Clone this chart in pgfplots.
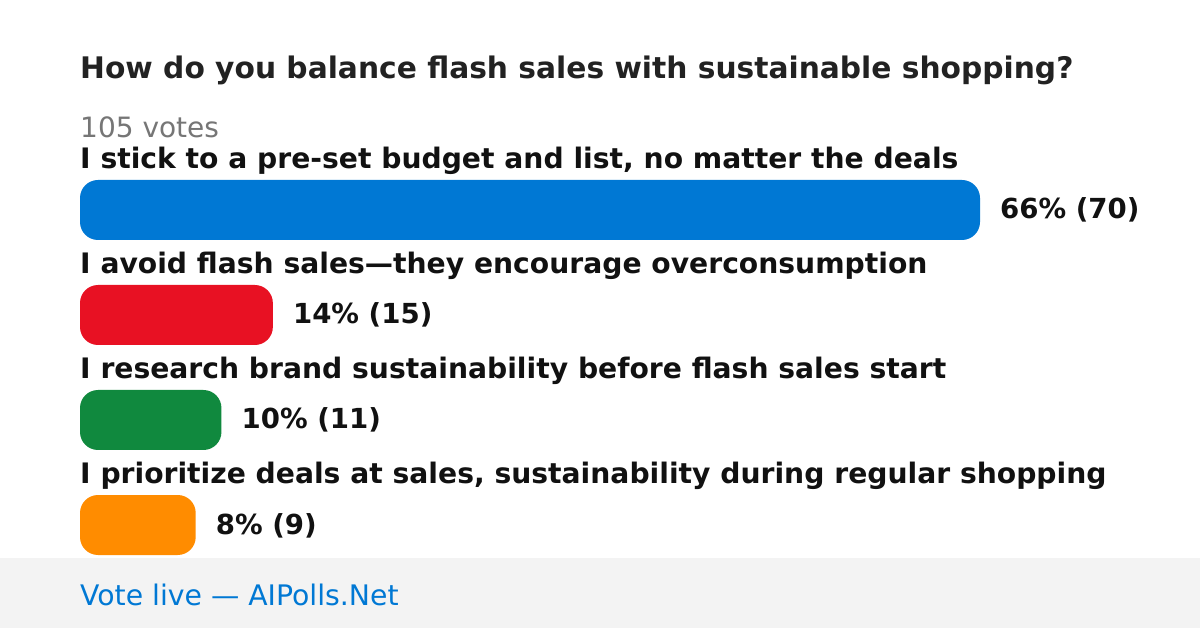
\documentclass[border=0pt]{standalone}
\usepackage{pgfplots}
\pgfplotsset{compat=1.18}
\usepackage{fontspec}
\setmainfont{DejaVu Sans}
\definecolor{cblue}{HTML}{0078D4}
\definecolor{cred}{HTML}{E81123}
\definecolor{cgreen}{HTML}{10893E}
\definecolor{corange}{HTML}{FF8C00}
\definecolor{footbg}{HTML}{F3F3F3}
\definecolor{titlec}{HTML}{222222}
\definecolor{labc}{HTML}{111111}
\definecolor{grayc}{HTML}{767676}
\begin{document}
\begin{tikzpicture}[x=1pt,y=1pt]
\fill[white] (0,0) rectangle (1200,628);
\fill[footbg] (0,0) rectangle (1200,70);
\node[anchor=base west, inner sep=0pt, text=titlec, font=\fontsize{29.7}{34}\selectfont\bfseries] at (80,549.5) {How do you balance flash sales with sustainable shopping?};
\node[anchor=base west, inner sep=0pt, text=grayc, font=\fontsize{28}{32}\selectfont] at (80,490.5) {105 votes};
\node[anchor=base west, inner sep=0pt, text=cblue, font=\fontsize{28.3}{32}\selectfont] at (80,22.5) {Vote live — AIPolls.Net};
\begin{axis}[
  at={(0,0)}, anchor=south west, scale only axis,
  width=1200pt, height=628pt,
  xmin=-6.2222, xmax=87.1111, ymin=0, ymax=628, y dir=reverse,
  axis lines=none, clip=false,
  xbar, bar shift=0pt, bar width=60,
  nodes near coords, point meta=explicit symbolic,
  every node near coord/.append style={anchor=base west, inner sep=0pt, xshift=20pt, yshift=-9pt, text=labc, font=\fontsize{27.6}{32}\selectfont\bfseries},
]
\addplot[fill=cblue, draw=none, rounded corners=18pt] coordinates {(70,210) [66\% (70)]};
\addplot[fill=cred, draw=none, rounded corners=18pt] coordinates {(15,315) [14\% (15)]};
\addplot[fill=cgreen, draw=none, rounded corners=18pt] coordinates {(11,420) [10\% (11)]};
\addplot[fill=corange, draw=none, rounded corners=18pt] coordinates {(9,525) [8\% (9)]};
\begin{scope}[every node/.style={anchor=base west, inner sep=0pt, text=labc, font=\fontsize{28.2}{32}\selectfont\bfseries}]
\node at (axis cs:0,168.3) {I stick to a pre-set budget and list, no matter the deals};
\node at (axis cs:0,273.3) {I avoid flash sales—they encourage overconsumption};
\node at (axis cs:0,378.3) {I research brand sustainability before flash sales start};
\node at (axis cs:0,483.3) {I prioritize deals at sales, sustainability during regular shopping};
\end{scope}
\end{axis}
\end{tikzpicture}
\end{document}
